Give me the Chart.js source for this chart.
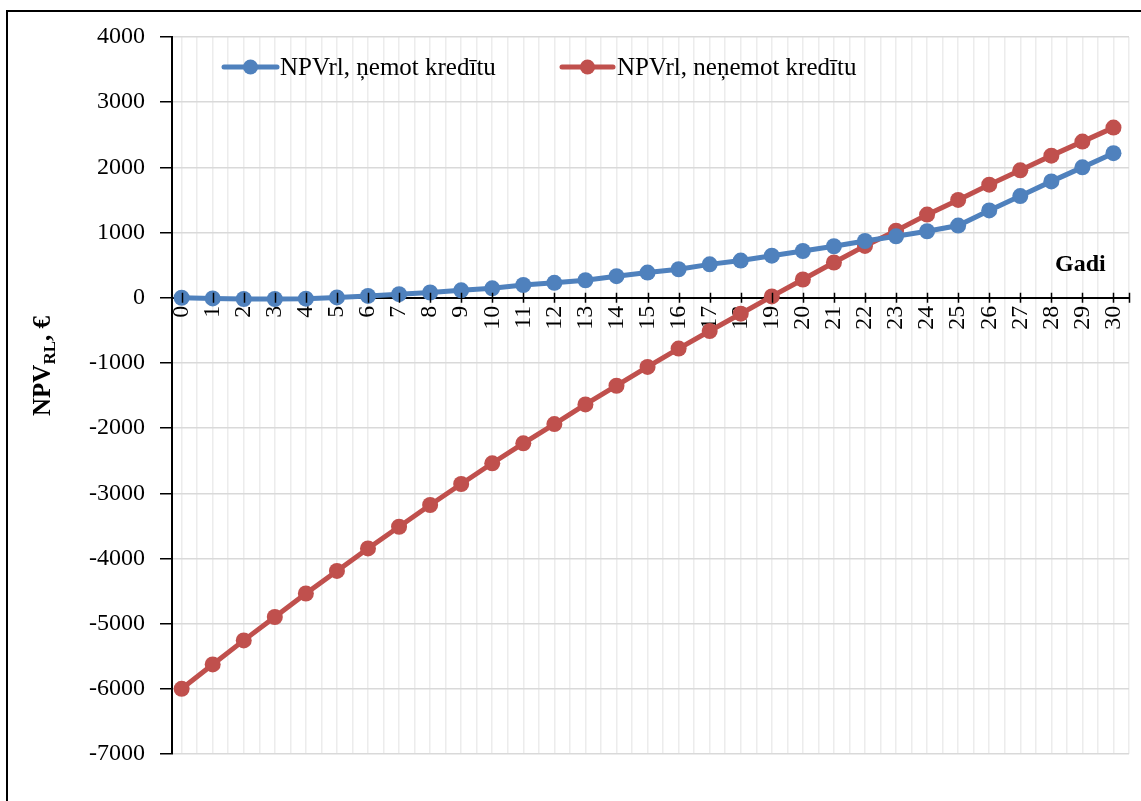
<!DOCTYPE html>
<html>
<head>
<meta charset="utf-8">
<script src="https://cdn.jsdelivr.net/npm/chart.js@4/dist/chart.umd.min.js"></script>
<style>
  html, body { margin: 0; padding: 0; background: #ffffff; }
  canvas { display: block; }
</style>
</head>
<body>
<canvas id="npvChart" width="1141" height="801"></canvas>
<script>
// Years of the project life
const years = [0, 1, 2, 3, 4, 5, 6, 7, 8, 9, 10, 11, 12, 13, 14, 15, 16, 17, 18, 19, 20,
               21, 22, 23, 24, 25, 26, 27, 28, 29, 30];

// Discounted net present value by year, €
const npvWithLoan = [0, -10, -20, -20, -15, 5, 28, 55, 80, 113, 144, 195, 228, 268, 330, 386,
                     437, 512, 570, 645, 717, 790, 870, 942, 1020, 1107, 1340, 1560, 1785, 2000, 2218];
const npvWithoutLoan = [-6000, -5626, -5257, -4898, -4538, -4191, -3846, -3514, -3180, -2858, -2540,
                        -2234, -1939, -1637, -1350, -1061, -780, -511, -245, 20, 280, 540, 795,
                        1028, 1275, 1500, 1735, 1955, 2180, 2395, 2610];

const seriesLabels = ['NPVrl, ņemot kredītu', 'NPVrl, neņemot kredītu'];
const seriesColors = ['#4f81bd', '#c0504d'];

// Value axis range and step
const yMin = -7000;
const yMax = 4000;
const yStep = 1000;

const xAxisTitle = 'Gadi';
const yAxisTitle = { main: 'NPV', sub: 'RL', rest: ', €' };

const SERIF = '"Liberation Serif", "Times New Roman", serif';

const toPoints = vals => vals.map((v, i) => ({ x: years[i], y: v }));

// Outer frame of the figure
const framePlugin = {
  id: 'frame',
  afterDraw(chart) {
    const ctx = chart.ctx;
    ctx.save();
    ctx.strokeStyle = '#000';
    ctx.lineWidth = 2;
    ctx.beginPath();
    ctx.moveTo(7, 801);
    ctx.lineTo(7, 11);
    ctx.lineTo(1141, 11);
    ctx.stroke();
    ctx.restore();
  }
};

// Crossing tick marks on the horizontal axis (drawn at y = 0)
const xTicksPlugin = {
  id: 'xTicks',
  afterDatasetsDraw(chart) {
    const { ctx, scales: { x, y } } = chart;
    const y0 = y.getPixelForValue(0);
    ctx.save();
    ctx.strokeStyle = '#000';
    ctx.lineWidth = 1.5;
    ctx.beginPath();
    const marks = years.concat([x.max]);
    marks.forEach(v => {
      const px = Math.round(x.getPixelForValue(v)) + 0.5;
      ctx.moveTo(px, y0 - 5);
      ctx.lineTo(px, y0 + 5);
    });
    ctx.stroke();
    ctx.restore();
  }
};

// Axis titles: rotated value-axis title with subscript, and the year label
const titlesPlugin = {
  id: 'titles',
  afterDraw(chart) {
    const ctx = chart.ctx;
    ctx.save();
    ctx.fillStyle = '#000';
    // value axis title
    const big = 'bold 25px ' + SERIF;
    const small = 'bold 17px ' + SERIF;
    ctx.font = big;
    const w1 = ctx.measureText(yAxisTitle.main).width;
    const w3 = ctx.measureText(yAxisTitle.rest).width;
    ctx.font = small;
    const w2 = ctx.measureText(yAxisTitle.sub).width;
    const total = w1 + w2 + w3;
    ctx.translate(50, 366);
    ctx.rotate(-Math.PI / 2);
    ctx.textBaseline = 'alphabetic';
    ctx.textAlign = 'left';
    let cx = -total / 2;
    ctx.font = big;
    ctx.fillText(yAxisTitle.main, cx, 0);
    cx += w1;
    ctx.font = small;
    ctx.fillText(yAxisTitle.sub, cx, 5);
    cx += w2;
    ctx.font = big;
    ctx.fillText(yAxisTitle.rest, cx, 0);
    ctx.restore();

    // horizontal axis title
    ctx.save();
    ctx.fillStyle = '#000';
    ctx.font = 'bold 24px ' + SERIF;
    ctx.textAlign = 'left';
    ctx.textBaseline = 'alphabetic';
    ctx.fillText(xAxisTitle, 1055, 271);
    ctx.restore();
  }
};

// Legend entries: line with a marker, then the series name
const legendPlugin = {
  id: 'lineLegend',
  afterDraw(chart) {
    const ctx = chart.ctx;
    const entries = [
      { x0: 224, x1: 277, tx: 280 },
      { x0: 562, x1: 613, tx: 617 }
    ];
    const ly = 67;
    ctx.save();
    chart.data.datasets.forEach((ds, i) => {
      const e = entries[i];
      ctx.strokeStyle = ds.borderColor;
      ctx.lineWidth = 5;
      ctx.lineCap = 'round';
      ctx.beginPath();
      ctx.moveTo(e.x0, ly);
      ctx.lineTo(e.x1, ly);
      ctx.stroke();
      ctx.fillStyle = ds.backgroundColor;
      ctx.beginPath();
      ctx.arc((e.x0 + e.x1) / 2, ly, 7.5, 0, Math.PI * 2);
      ctx.fill();
      ctx.fillStyle = '#000';
      ctx.font = '25px ' + SERIF;
      ctx.textAlign = 'left';
      ctx.textBaseline = 'middle';
      ctx.fillText(ds.label, e.tx, ly + 1);
    });
    ctx.restore();
  }
};

new Chart(document.getElementById('npvChart'), {
  type: 'line',
  data: {
    datasets: [
      {
        label: seriesLabels[0],
        data: toPoints(npvWithLoan),
        borderColor: seriesColors[0],
        backgroundColor: seriesColors[0],
        borderWidth: 5,
        pointRadius: 8,
        pointHoverRadius: 8,
        pointBorderWidth: 0,
        tension: 0
      },
      {
        label: seriesLabels[1],
        data: toPoints(npvWithoutLoan),
        borderColor: seriesColors[1],
        backgroundColor: seriesColors[1],
        borderWidth: 5,
        pointRadius: 8,
        pointHoverRadius: 8,
        pointBorderWidth: 0,
        tension: 0
      }
    ]
  },
  options: {
    responsive: false,
    animation: false,
    devicePixelRatio: 1,
    layout: { padding: { left: 0, top: 37, right: 12, bottom: 47 } },
    plugins: {
      legend: { display: false },
      tooltip: { enabled: false }
    },
    scales: {
      x: {
        type: 'linear',
        position: { y: 0 },
        min: -0.31,
        max: 30.5,
        afterBuildTicks(scale) {
          const t = [];
          for (let i = 0; i <= 61; i++) t.push({ value: i * 0.5 });
          scale.ticks = t;
        },
        afterFit(scale) {
          scale.paddingLeft = 0;
          scale.paddingRight = 0;
        },
        grid: {
          color: '#ececec',
          lineWidth: 1.5,
          drawTicks: false
        },
        border: { display: true, color: '#000', width: 2 },
        ticks: {
          autoSkip: false,
          minRotation: 90,
          maxRotation: 90,
          padding: 8,
          color: '#000',
          font: { family: SERIF, size: 24 },
          callback(value) {
            return Number.isInteger(value) ? String(years[value]) : '';
          }
        }
      },
      y: {
        type: 'linear',
        position: 'left',
        min: yMin,
        max: yMax,
        afterFit(scale) {
          scale.width = 172;
          scale.paddingTop = 0;
          scale.paddingBottom = 0;
        },
        grid: {
          color: '#d9d9d9',
          lineWidth: 1.5,
          tickColor: '#000',
          tickLength: 12,
          tickWidth: 1.5
        },
        border: { display: true, color: '#000', width: 2 },
        ticks: {
          stepSize: yStep,
          padding: 15,
          color: '#000',
          font: { family: SERIF, size: 24 },
          callback(value) { return String(value); }
        }
      }
    }
  },
  plugins: [framePlugin, xTicksPlugin, titlesPlugin, legendPlugin]
});
</script>
</body>
</html>
